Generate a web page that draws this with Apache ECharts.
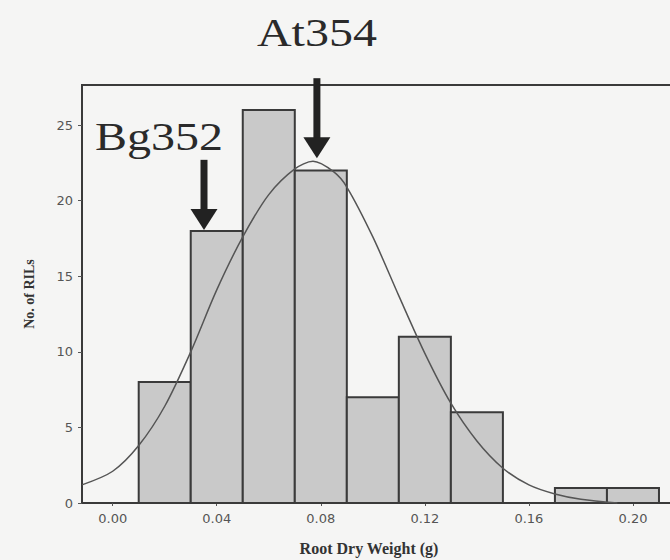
<!DOCTYPE html>
<html>
<head>
<meta charset="utf-8">
<style>
  html, body { margin: 0; padding: 0; background: #f5f5f4; }
  #chart { width: 670px; height: 560px; }
</style>
<script src="https://cdn.jsdelivr.net/npm/echarts@6/dist/echarts.min.js"></script>
</head>
<body>
<div id="chart"></div>
<script>
// ---- data ----
const binStart = [0.01, 0.03, 0.05, 0.07, 0.09, 0.11, 0.13, 0.17, 0.19];
const binEnd   = [0.03, 0.05, 0.07, 0.09, 0.11, 0.13, 0.15, 0.19, 0.21];
const counts   = [8, 18, 26, 22, 7, 11, 6, 1, 1];

const curveX = [-0.0118, 0.000, 0.010, 0.020, 0.030, 0.040, 0.050, 0.060, 0.070, 0.077, 0.085, 0.090, 0.100, 0.110, 0.120, 0.130, 0.140, 0.150, 0.160, 0.170, 0.180, 0.194];
const curveY = [1.2, 2.1, 3.8, 6.4, 10.0, 14.1, 17.6, 20.4, 22.1, 22.6, 21.9, 20.9, 17.6, 13.7, 9.9, 6.6, 4.1, 2.3, 1.2, 0.6, 0.25, 0.0];

const xTickValues = [0.00, 0.04, 0.08, 0.12, 0.16, 0.20];
const yTickValues = [0, 5, 10, 15, 20, 25];

const markerNames = ['At354', 'Bg352'];
const markerX     = [0.0785, 0.0351];
const markerTipY  = [22.8, 18.06];
const markerTailY = [28.1, 22.7];
const labelX      = [0.0785, 0.0178];
const labelY      = [31.1, 24.23];

const xName = 'Root Dry Weight (g)';
const yName = 'No. of RILs';

// ---- build ----
const barData = binStart.map((s, i) => [s, binEnd[i], counts[i]]);
const curveData = curveX.map((x, i) => [x, curveY[i]]);
const markerData = markerNames.map((n, i) => [markerX[i], markerTipY[i], markerTailY[i], labelX[i], labelY[i], n]);

const chart = echarts.init(document.getElementById('chart'), null, { renderer: 'svg' });

const labelFont = { fontFamily: 'DejaVu Sans', fontSize: 13, color: '#555' };

chart.setOption({
  backgroundColor: '#f5f5f4',
  animation: false,
  grid: {
    left: 82, top: 85, width: 616, bottom: 57,
    outerBoundsMode: 'none', containLabel: false,
    show: true, borderColor: '#3a3a3a', borderWidth: 2, backgroundColor: 'transparent'
  },
  xAxis: {
    type: 'value', min: -0.0118, max: 0.225,
    axisLine: { show: true, onZero: false, lineStyle: { color: '#3a3a3a', width: 2 } },
    axisTick: { show: true, length: 3, customValues: xTickValues, lineStyle: { color: '#555' } },
    axisLabel: Object.assign({ customValues: xTickValues, margin: 9, formatter: v => v.toFixed(2) }, labelFont),
    splitLine: { show: false }
  },
  yAxis: {
    type: 'value', min: 0, max: 27.65,
    name: yName, nameLocation: 'middle', nameGap: 46, nameRotate: 90,
    nameTextStyle: { fontFamily: 'Liberation Serif', fontWeight: 'bold', fontSize: 14, color: '#333' },
    axisLine: { show: true, onZero: false, lineStyle: { color: '#3a3a3a', width: 2 } },
    axisTick: { show: true, length: 4, customValues: yTickValues, lineStyle: { color: '#555' } },
    axisLabel: Object.assign({ customValues: yTickValues, margin: 9 }, labelFont),
    splitLine: { show: false }
  },
  graphic: [{
    type: 'text', x: 369, y: 548,
    style: { text: xName, font: 'bold 16px "Liberation Serif"', fill: '#333', align: 'center', verticalAlign: 'middle' }
  }],
  series: [
    {
      type: 'custom', z: 2,
      data: barData,
      encode: { x: [0, 1], y: 2 },
      renderItem: function (params, api) {
        const p0 = api.coord([api.value(0), 0]);
        const p1 = api.coord([api.value(1), api.value(2)]);
        return {
          type: 'rect',
          shape: { x: p0[0], y: p1[1], width: p1[0] - p0[0], height: p0[1] - p1[1] },
          style: { fill: '#c9c9c9', stroke: '#3a3a3a', lineWidth: 2 }
        };
      }
    },
    {
      type: 'line', z: 3, smooth: 0.3, symbol: 'none',
      data: curveData,
      lineStyle: { color: '#555', width: 1.5 }
    },
    {
      type: 'custom', z: 4, clip: false,
      data: markerData,
      encode: { x: 0, y: 1 },
      renderItem: function (params, api) {
        const tip = api.coord([api.value(0), api.value(1)]);
        const tail = api.coord([api.value(0), api.value(2)]);
        const lab = api.coord([api.value(3), api.value(4)]);
        const name = markerNames[params.dataIndex];
        const headH = 21, headW = 27, shaftW = 7;
        return {
          type: 'group',
          children: [
            { type: 'rect', shape: { x: tip[0] - shaftW / 2, y: tail[1], width: shaftW, height: (tip[1] - headH) - tail[1] + 1 },
              style: { fill: '#222' } },
            { type: 'polygon', shape: { points: [[tip[0] - headW / 2, tip[1] - headH], [tip[0] + headW / 2, tip[1] - headH], [tip[0], tip[1]]] },
              style: { fill: '#222' } },
            { type: 'text', x: lab[0], y: lab[1], scaleX: 1.2,
              style: { text: name, x: 0, y: 0, align: 'center', verticalAlign: 'middle',
                       font: '40px "Liberation Serif"', fill: '#2a2a2a' } }
          ]
        };
      }
    }
  ]
});
</script>
</body>
</html>
